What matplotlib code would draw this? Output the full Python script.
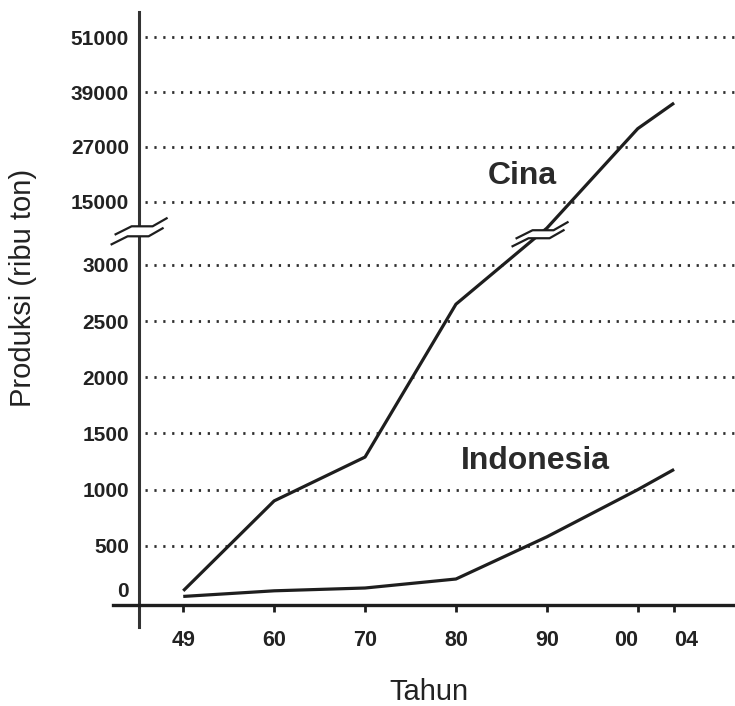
import numpy as np
import matplotlib
matplotlib.use("Agg")
import matplotlib.pyplot as plt
from matplotlib.lines import Line2D
from matplotlib.patches import Polygon
from matplotlib.transforms import IdentityTransform, ScaledTranslation

plt.rcParams['font.family'] = ['Liberation Sans', 'DejaVu Sans']

# data (ribu ton)
tahun = [1949, 1960, 1970, 1980, 1990, 2000, 2004]
tahun_label = ["49", "60", "70", "80", "90", "00", "04"]
cina = [100, 900, 1290, 2650, 10000, 31000, 36600]
indonesia = [50, 100, 125, 205, 580, 1000, 1180]
y_ticks = [0, 500, 1000, 1500, 2000, 2500, 3000, 15000, 27000, 39000, 51000]


# broken y scale: linear up to 3000, compressed above
def fy(y):
    y = np.asarray(y, float)
    return np.where(y <= 3000, y,
                    np.where(y <= 15000, 3000 + (y - 3000) * 560 / 12000,
                             3560 + (y - 15000) * 489 / 12000))


def fy_inv(v):
    v = np.asarray(v, float)
    return np.where(v <= 3000, v,
                    np.where(v <= 3560, 3000 + (v - 3000) * 12000 / 560,
                             15000 + (v - 3560) * 12000 / 489))


# x axis: 49 -> 60 drawn as one decade
def fx(x):
    x = np.asarray(x, float)
    return np.where(x <= 1960, (x - 1949) / 11, (x - 1950) / 10)


def fx_inv(v):
    v = np.asarray(v, float)
    return np.where(v <= 1, 1949 + v * 11, 1950 + v * 10)


fig = plt.figure(figsize=(7.35, 7.06), dpi=100)
ax = fig.add_subplot(111)
fig.subplots_adjust(left=113 / 735, right=1.0, bottom=79 / 706, top=694 / 706)

ax.set_xscale('function', functions=(fx, fx_inv))
ax.set_yscale('function', functions=(fy, fy_inv))
ax.set_xlim(1940.5, 2010.7)
ax.set_ylim(-222, 56470)

dark = '#1e1e1e'
ax.hlines(y_ticks[1:], 1944.4, 2010.7, colors='#2e2e2e',
          linestyles=(0, (0.8, 2.4)), linewidth=2.0)

ax.plot(tahun, cina, color=dark, lw=2.3, solid_capstyle='butt')
ax.plot(tahun, indonesia, color=dark, lw=2.3, solid_capstyle='butt')

ax.text(1987.3, 20700, "Cina", fontsize=23, fontweight='bold',
        color='#2a2a2a', ha='center', va='center')
ax.text(1988.7, 1255, "Indonesia", fontsize=23, fontweight='bold',
        color='#2a2a2a', ha='center', va='center')

for s in ['top', 'right']:
    ax.spines[s].set_visible(False)
ax.spines['left'].set_position(('data', 1943.6))
ax.spines['bottom'].set_position(('data', -27))
ax.spines['left'].set_linewidth(2.2)
ax.spines['bottom'].set_linewidth(2.4)
ax.spines['left'].set_color('#333333')
ax.spines['bottom'].set_color(dark)

ax.set_yticks(y_ticks)
ax.set_yticklabels([str(v) for v in y_ticks])
ax.yaxis.set_minor_locator(matplotlib.ticker.NullLocator())
ax.tick_params(axis='y', length=0, pad=7, labelsize=15)
ax.set_xticks(tahun)
ax.set_xticklabels(tahun_label)
ax.xaxis.set_minor_locator(matplotlib.ticker.NullLocator())
ax.tick_params(axis='x', length=5, width=2, direction='out', pad=13,
               labelsize=15.5, color=dark)
for lab in ax.get_xticklabels() + ax.get_yticklabels():
    lab.set_fontweight('bold')
    lab.set_color('#222222')
# the 0 label sits a bit above the axis line in the original
yl0 = ax.get_yticklabels()[0]
yl0.set_transform(yl0.get_transform() + ScaledTranslation(0, 0.13, fig.dpi_scale_trans))
# keep 00 and 04 apart a little like the original
xl = ax.get_xticklabels()
xl[5].set_ha('right')
xl[6].set_ha('left')

fig.text(23 / 735, (706 - 288) / 706, "Produksi (ribu ton)", rotation=90,
         fontsize=21, ha='center', va='center', color='#222222')
fig.text(429 / 735, (706 - 692) / 706, "Tahun", fontsize=21,
         ha='center', va='center', color='#222222')


def break_mark(cx, cy, shape, gap):
    pts = np.array(shape, float)
    up = pts + [2, gap]
    lo = pts + [-2, -gap]
    poly = np.vstack([up + [cx, cy], (lo + [cx, cy])[::-1]])
    fig.add_artist(Polygon(poly, closed=True, facecolor='white',
                           edgecolor='none', transform=IdentityTransform(),
                           zorder=5))
    for p in (up, lo):
        fig.add_artist(Line2D(p[:, 0] + cx, p[:, 1] + cy, color=dark, lw=1.6,
                              transform=IdentityTransform(), zorder=6))


shape = [(-25, -8), (-9, 0), (12, 0), (26, 8)]
# break on the y axis
bx, by = ax.transData.transform((1943.6, 9400))
break_mark(bx, by, shape, 5)
# break on the Cina line between 1980 and 1990
p0 = ax.transData.transform((tahun[3], cina[3]))
p1 = ax.transData.transform((tahun[4], cina[4]))
c = p0 + 0.92 * (p1 - p0)
break_mark(c[0], c[1], shape, 4)

fig.savefig("out.png", dpi=100)
